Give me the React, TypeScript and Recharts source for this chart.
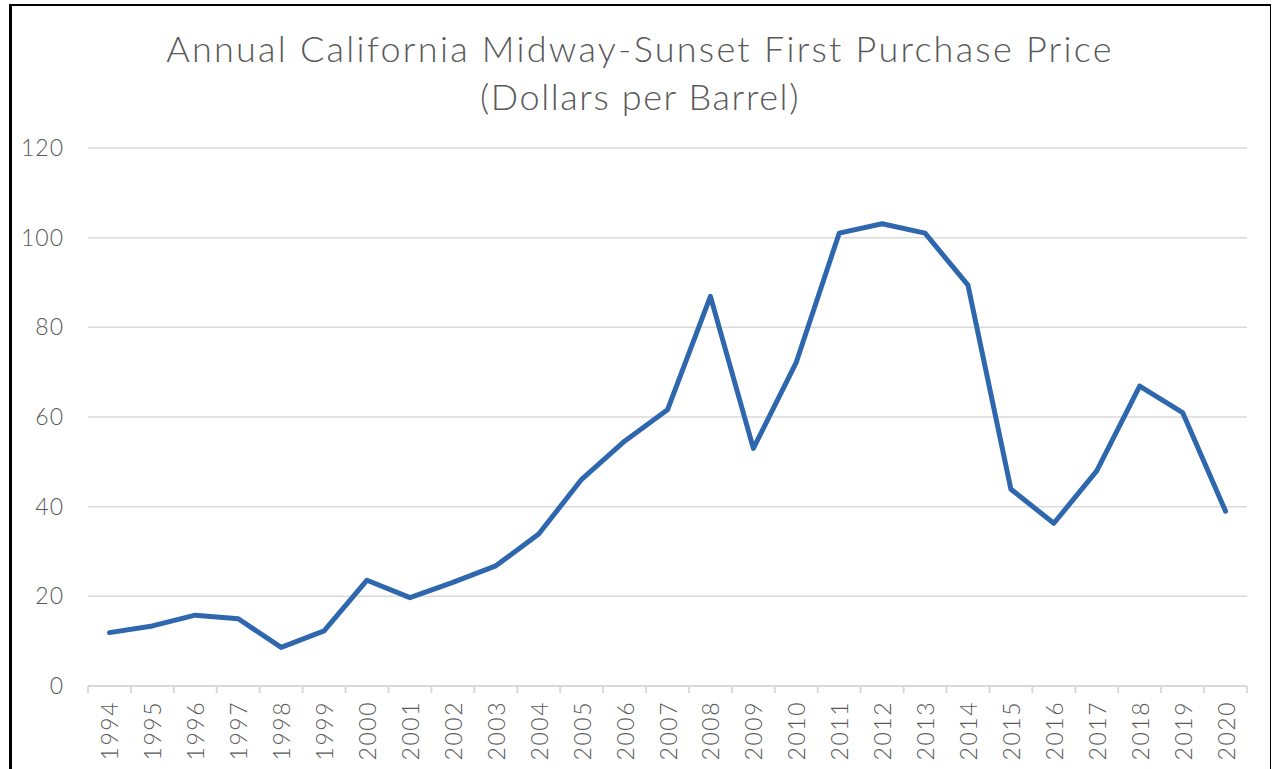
import React from "react";
import { LineChart, Line, XAxis, YAxis, CartesianGrid } from "recharts";

const years = [
  "1994","1995","1996","1997","1998","1999","2000","2001","2002","2003",
  "2004","2005","2006","2007","2008","2009","2010","2011","2012","2013",
  "2014","2015","2016","2017","2018","2019","2020",
];
const prices = [
  11.9, 13.4, 15.8, 15.0, 8.6, 12.3, 23.6, 19.7, 23.1, 26.8,
  33.9, 46.1, 54.6, 61.6, 86.9, 53.0, 72.2, 101.0, 103.1, 101.0,
  89.4, 43.9, 36.3, 48.0, 66.9, 61.0, 39.0,
];
const yTicks = [0, 20, 40, 60, 80, 100, 120];
const titleLines = [
  "Annual California Midway-Sunset First Purchase Price",
  "(Dollars per Barrel)",
];
const titleSpacing = [2.25, 1.6];

const data = years.map((y, i) => ({ year: y, price: prices[i] }));

const FONT = "Lato, 'Open Sans', sans-serif";
const TEXT = "#595959";
const GRID = "#d9d9d9";

const W = 1275;
const H = 769;
const M = { top: 148, right: 28, left: 0, bottom: 0 };
const Y_AXIS_W = 88;
const X_AXIS_H = 83;
const HALF_BAND = (W - Y_AXIS_W - M.right) / years.length / 2;

const XTick = (props: any) => {
  const { x, y, payload, index } = props;
  const off = payload && payload.offset ? payload.offset : HALF_BAND;
  const last = index === years.length - 1;
  return (
    <g>
      <line x1={x - off} y1={y} x2={x - off} y2={y + 7} stroke={GRID} strokeWidth={2} />
      {last && <line x1={x + off} y1={y} x2={x + off} y2={y + 7} stroke={GRID} strokeWidth={2} />}
      <text
        x={x}
        y={y + 15}
        transform={`rotate(-90, ${x}, ${y + 15})`}
        textAnchor="end"
        dominantBaseline="central"
        fill={TEXT}
        fontSize={23}
        letterSpacing={1.5}
        fontFamily={FONT}
        fontWeight={300}
      >
        {payload.value}
      </text>
    </g>
  );
};

export default function App() {
  return (
    <div style={{ position: "fixed", left: 0, top: 0, width: W, height: H, background: "#fff", overflow: "hidden" }}>
      <div
        style={{
          position: "absolute",
          left: 9,
          top: 4,
          width: 1262,
          height: 765,
          boxSizing: "border-box",
          borderLeft: "3px solid #000",
          borderTop: "2px solid #000",
          borderRight: "1px solid #000",
        }}
      />
      {titleLines.map((t, i) => (
        <div
          key={i}
          style={{
            position: "absolute",
            left: 10,
            width: 1260,
            top: 25 + i * 48,
            textAlign: "center",
            fontFamily: FONT,
            fontSize: 36,
            fontWeight: 300,
            letterSpacing: titleSpacing[i],
            lineHeight: "46px",
            color: TEXT,
            whiteSpace: "nowrap",
          }}
        >
          {t}
        </div>
      ))}
      <div style={{ position: "absolute", left: 0, top: 0 }}>
        <LineChart width={W} height={H} data={data} margin={M}>
          <CartesianGrid vertical={false} stroke={GRID} strokeWidth={1.5} />
          <XAxis
            dataKey="year"
            interval={0}
            height={X_AXIS_H}
            padding={{ left: HALF_BAND, right: HALF_BAND }}
            tickSize={0}
            tickMargin={0}
            tickLine={false}
            axisLine={{ stroke: GRID, strokeWidth: 2 }}
            tick={<XTick />}
          />
          <YAxis
            width={Y_AXIS_W}
            domain={[0, 120]}
            ticks={yTicks}
            axisLine={false}
            tickLine={false}
            tickSize={0}
            tickMargin={24}
            tick={{ fill: TEXT, fontSize: 23, fontFamily: FONT, fontWeight: 300, letterSpacing: 1 }}
          />
          <Line
            type="linear"
            dataKey="price"
            stroke="#2F67AF"
            strokeWidth={5}
            strokeLinejoin="round"
            strokeLinecap="round"
            dot={false}
            activeDot={false}
            isAnimationActive={false}
          />
        </LineChart>
      </div>
    </div>
  );
}
